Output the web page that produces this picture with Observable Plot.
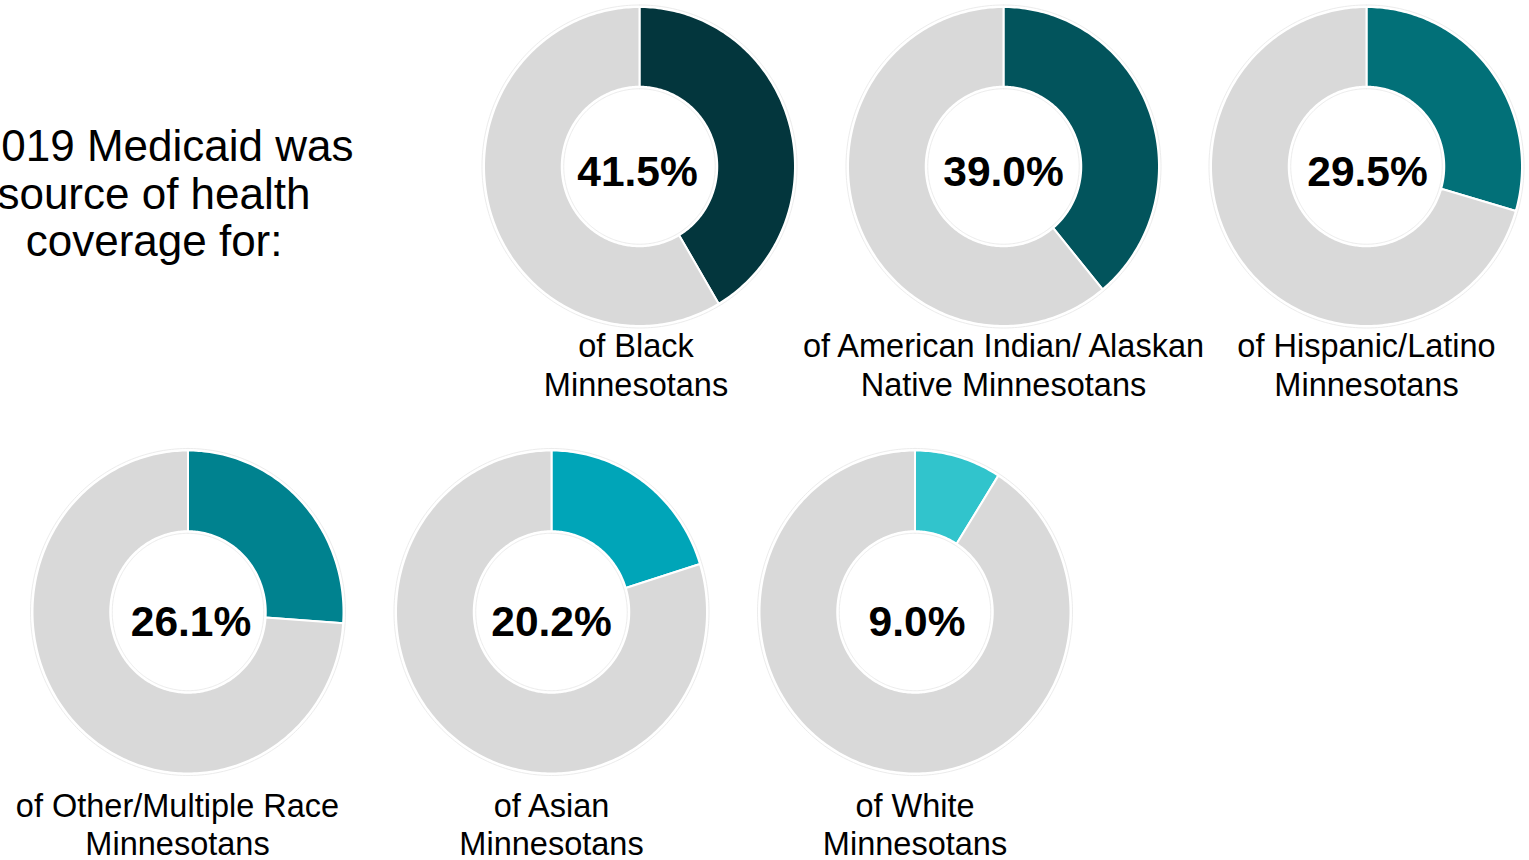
<!DOCTYPE html>
<html>
<head>
<meta charset="utf-8">
<script src="https://cdn.jsdelivr.net/npm/d3@7"></script>
<script src="https://cdn.jsdelivr.net/npm/@observablehq/plot@0.6"></script>
<style>
  html, body { margin: 0; padding: 0; background: #fff; overflow: hidden; }
  #chart svg { display: block; }
</style>
</head>
<body>
<div id="chart"></div>
<script>
// ---- data ----
const groups = ["Black", "American Indian/ Alaskan Native", "Hispanic/Latino", "Other/Multiple Race", "Asian", "White"];
const labelFirstLines = ["of Black", "of American Indian/ Alaskan", "of Hispanic/Latino", "of Other/Multiple Race", "of Asian", "of White"];
const labelSecondLines = ["Minnesotans", "Native Minnesotans", "Minnesotans", "Minnesotans", "Minnesotans", "Minnesotans"];
const medicaidShare = [41.5, 39.0, 29.5, 26.1, 20.2, 9.0];
const titleLines = ["In 2019 Medicaid was", "source of health", "coverage for:"];

// ---- styles & layout ----
const palette = ["#03363D", "#02545C", "#027078", "#00828F", "#00A5B8", "#31C4CC"];
const restColor = "#D9D9D9";
const W = 1529, H = 860;
const rows = [
  {rx: 155.5, ry: 159.5, pctDy: 19, labelDy: 229},
  {rx: 155.5, ry: 161.5, pctDy: 23.5, labelDy: 243}
];
const layout = [
  {cx: 639,   cy: 166,   row: 0, labelDx: -3.5, pctDx: -2},
  {cx: 1003,  cy: 166,   row: 0, labelDx: 0,    pctDx: 0},
  {cx: 1366,  cy: 166,   row: 0, labelDx: 0,    pctDx: 1},
  {cx: 187.5, cy: 611.5, row: 1, labelDx: -10.5, pctDx: 3},
  {cx: 551,   cy: 611.5, row: 1, labelDx: 0,    pctDx: 0},
  {cx: 914.5, cy: 611.5, row: 1, labelDx: 0,    pctDx: 2}
];
const holeRatio = 0.5;
const titleLayout = [{x: 353, y: 160}, {x: 310, y: 208}, {x: 282, y: 255.5}];

// ---- build polygons from the data ----
function segmentPoints(key, fill, L, R, f0, f1) {
  const pts = [];
  const n = Math.max(2, Math.ceil((f1 - f0) * 360));
  for (let i = 0; i <= n; i++) {
    const a = 2 * Math.PI * (f0 + (f1 - f0) * i / n);
    pts.push({key, fill, x: L.cx + R.rx * Math.sin(a), y: L.cy - R.ry * Math.cos(a)});
  }
  for (let i = n; i >= 0; i--) {
    const a = 2 * Math.PI * (f0 + (f1 - f0) * i / n);
    pts.push({key, fill, x: L.cx + R.rx * holeRatio * Math.sin(a), y: L.cy - R.ry * holeRatio * Math.cos(a)});
  }
  pts.push({...pts[0]});
  return pts;
}
function ellipsePoints(key, L, rx, ry) {
  const pts = [];
  for (let i = 0; i <= 360; i++) {
    const a = 2 * Math.PI * i / 360;
    pts.push({key, x: L.cx + rx * Math.sin(a), y: L.cy - ry * Math.cos(a)});
  }
  return pts;
}

const polys = [];
const rims = [];
const pctLabels = [];
const groupLabels = [];
groups.forEach((g, i) => {
  const L = layout[i], R = rows[L.row];
  const v = medicaidShare[i] / 100;
  polys.push(...segmentPoints(g + "-medicaid", palette[i], L, R, 0, v));
  polys.push(...segmentPoints(g + "-other", restColor, L, R, v, 1));
  rims.push(...ellipsePoints(g + "-outer", L, R.rx + 2, R.ry + 2));
  rims.push(...ellipsePoints(g + "-inner", L, R.rx * holeRatio - 2, R.ry * holeRatio - 2));
  pctLabels.push({x: L.cx + L.pctDx, y: L.cy + R.pctDy, text: medicaidShare[i].toFixed(1) + "%"});
  groupLabels.push({x: L.cx + L.labelDx, y: L.cy + R.labelDy, text: labelFirstLines[i] + "\n" + labelSecondLines[i]});
});
const titleData = titleLines.map((t, i) => ({x: titleLayout[i].x, y: titleLayout[i].y, text: t}));

const chart = Plot.plot({
  width: W,
  height: H,
  margin: 0,
  style: {fontFamily: "'Liberation Sans', Arial, sans-serif", background: "#fff", color: "#000"},
  x: {domain: [0, W], range: [0, W], axis: null},
  y: {domain: [0, H], range: [0, H], axis: null},
  color: {type: "identity"},
  marks: [
    Plot.line(rims, {x: "x", y: "y", z: "key", stroke: "#ececec", strokeWidth: 1}),
    Plot.line(polys, {x: "x", y: "y", z: "key", fill: "fill", stroke: "#fff", strokeWidth: 2, strokeLinejoin: "round"}),
    Plot.text(pctLabels, {x: "x", y: "y", text: "text", fontSize: 42.5, fontWeight: "bold", lineAnchor: "bottom", fill: "#000"}),
    Plot.text(groupLabels, {x: "x", y: "y", text: "text", fontSize: 32.5, lineHeight: 1.17, lineAnchor: "bottom", fill: "#000"}),
    Plot.text(titleData, {x: "x", y: "y", text: "text", fontSize: 44, textAnchor: "end", lineAnchor: "bottom", fill: "#000"})
  ]
});
document.getElementById("chart").appendChild(chart);
</script>
</body>
</html>
